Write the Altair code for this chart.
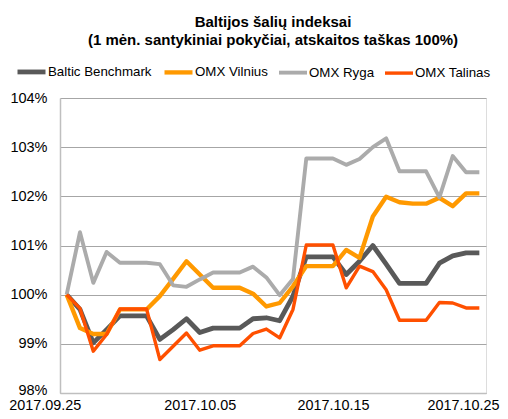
import altair as alt
import pandas as pd

dates = [
    "2017-09-25", "2017-09-26", "2017-09-27", "2017-09-28", "2017-09-29", "2017-09-30",
    "2017-10-01", "2017-10-02", "2017-10-03", "2017-10-04", "2017-10-05", "2017-10-06",
    "2017-10-07", "2017-10-08", "2017-10-09", "2017-10-10", "2017-10-11", "2017-10-12",
    "2017-10-13", "2017-10-14", "2017-10-15", "2017-10-16", "2017-10-17", "2017-10-18",
    "2017-10-19", "2017-10-20", "2017-10-21", "2017-10-22", "2017-10-23", "2017-10-24",
    "2017-10-25", "2017-10-26",
]

baltic = [100.00, 99.70, 99.02, 99.29, 99.57, 99.57, 99.57, 99.09, 99.29, 99.51, 99.23,
          99.32, 99.32, 99.32, 99.51, 99.53, 99.47, 99.97, 100.77, 100.77, 100.77, 100.41,
          100.68, 101.00, 100.62, 100.23, 100.23, 100.23, 100.64, 100.79, 100.85, 100.85]

vilnius = [100.00, 99.32, 99.20, 99.20, 99.70, 99.70, 99.70, 99.97, 100.32, 100.68, 100.41,
           100.14, 100.14, 100.14, 100.02, 99.76, 99.83, 100.17, 100.58, 100.58, 100.58,
           100.91, 100.75, 101.59, 101.99, 101.88, 101.85, 101.85, 101.97, 101.80, 102.06, 102.06]

ryga = [100.00, 101.27, 100.24, 100.87, 100.65, 100.65, 100.65, 100.62, 100.19, 100.16,
        100.31, 100.45, 100.45, 100.45, 100.57, 100.35, 99.99, 100.32, 102.77, 102.77,
        102.77, 102.64, 102.76, 103.00, 103.18, 102.51, 102.51, 102.51, 101.98, 102.82,
        102.49, 102.49]

talinas = [100.00, 99.72, 98.85, 99.19, 99.71, 99.71, 99.71, 98.68, 98.95, 99.22, 98.87,
           98.96, 98.96, 98.96, 99.21, 99.30, 99.12, 99.70, 101.01, 101.01, 101.01, 100.14,
           100.58, 100.47, 100.10, 99.48, 99.48, 99.48, 99.84, 99.83, 99.73, 99.73]

series_names = ["Baltic Benchmark", "OMX Vilnius", "OMX Ryga", "OMX Talinas"]
series_values = [baltic, vilnius, ryga, talinas]
series_colors = ["#595959", "#FF9900", "#ABABAB", "#FF5000"]
series_widths = [4.8, 3.4, 3.4, 3.4]

y_ticks = [98, 99, 100, 101, 102, 103, 104]

title_line1 = "Baltijos šalių indeksai"
title_line2 = "(1 mėn. santykiniai pokyčiai, atskaitos taškas 100%)"

rows = []
for order, (name, vals) in enumerate(zip(series_names, series_values)):
    for d, v in zip(dates, vals):
        rows.append({"date": d + "T00:00:00", "value": v, "series": name, "order": order})
df = pd.DataFrame(rows)

FONT = "Liberation Sans"

x_ticks = [
    alt.DateTime(year=2017, month=9, date=25),
    alt.DateTime(year=2017, month=10, date=5),
    alt.DateTime(year=2017, month=10, date=15),
    alt.DateTime(year=2017, month=10, date=25),
]

legend_cfg = dict(
    title=None,
    orient="none",
    legendX=-45,
    legendY=-43,
    direction="horizontal",
    symbolType="stroke",
    symbolSize=784,
    labelFont=FONT,
    labelFontSize=13.3,
    labelColor="#000000",
    labelOffset=0,
    labelLimit=200,
    columnPadding=3,
)

chart = (
    alt.Chart(df)
    .mark_line(strokeJoin="round")
    .encode(
        x=alt.X(
            "date:T",
            scale=alt.Scale(
                domain=[
                    alt.DateTime(year=2017, month=9, date=24, hours=12),
                    alt.DateTime(year=2017, month=10, date=26, hours=12),
                ]
            ),
            axis=alt.Axis(
                title=None,
                values=x_ticks,
                format="%Y.%m.%d",
                grid=False,
                ticks=False,
                domainColor="#BFBFBF",
                domainWidth=1.5,
                labelFont=FONT,
                labelFontSize=14.4,
                labelColor="#000000",
                labelPadding=5,
                labelFlush=False,
                labelOverlap=False,
                labelOffset={
                    "condition": [
                        {"test": "datum.index === 0", "value": -22},
                        {"test": "datum.index === 1", "value": -3},
                    ],
                    "value": 0,
                },
            ),
        ),
        y=alt.Y(
            "value:Q",
            scale=alt.Scale(domain=[98, 104], nice=False, zero=False),
            axis=alt.Axis(
                title=None,
                values=y_ticks,
                labelExpr="datum.value + '%'",
                ticks=False,
                grid=True,
                gridColor="#A6A6A6",
                gridWidth=1,
                domainColor="#BFBFBF",
                domainWidth=1.5,
                labelFont=FONT,
                labelFontSize=14.5,
                labelColor="#000000",
                labelPadding=13,
                labelOffset={
                    "condition": {"test": "datum.value === 98", "value": -3},
                    "value": 0,
                },
            ),
        ),
        color=alt.Color(
            "series:N",
            scale=alt.Scale(domain=series_names, range=series_colors),
            sort=series_names,
            legend=alt.Legend(**legend_cfg),
        ),
        strokeWidth=alt.StrokeWidth(
            "series:N",
            scale=alt.Scale(domain=series_names, range=series_widths),
            sort=series_names,
            legend=alt.Legend(**legend_cfg),
        ),
        order=alt.Order("order:Q"),
    )
    .properties(
        width=426,
        height=295,
        autosize=alt.AutoSizeParams(type="none"),
        padding={"left": 52, "top": 90, "right": 14, "bottom": 18},
        title=alt.Title(
            title_line1,
            subtitle=title_line2,
            font=FONT,
            fontSize=15,
            fontWeight="bold",
            subtitleFont=FONT,
            subtitleFontSize=15,
            subtitleFontWeight="bold",
            subtitleColor="#000000",
            subtitlePadding=3,
            anchor="middle",
            frame="group",
            offset=7,
            color="#000000",
        ),
    )
    .configure_view(stroke=None)
    .configure(background="white")
)

chart.save("out.html", embed_options={"renderer": "svg", "actions": False})
